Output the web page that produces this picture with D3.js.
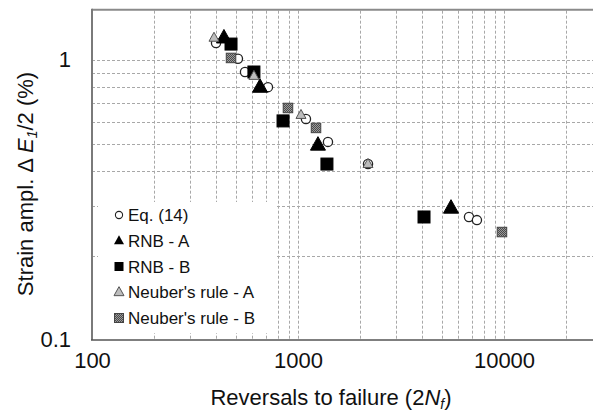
<!DOCTYPE html>
<html>
<head>
<meta charset="utf-8">
<script src="https://cdn.jsdelivr.net/npm/d3@7"></script>
<style>
  body { margin: 0; background: #fff; }
  text { font-family: "Liberation Sans", Arial, Helvetica, sans-serif; fill: #111; }
</style>
</head>
<body>
<div id="chart"></div>
<script>
// Data: [reversals 2Nf, strain amplitude %]
var eq14 = [[400, 1.15], [511, 1.01], [553, 0.906], [715, 0.80], [1093, 0.616],
  [1398, 0.51], [2187, 0.425], [6761, 0.275], [7390, 0.268]];
var rnbA = [[437, 1.20], [654, 0.80], [1250, 0.497], [5530, 0.296]];
var rnbB = [[473, 1.14], [611, 0.906], [846, 0.606], [1382, 0.425], [4090, 0.275]];
var neuberA = [[391, 1.20], [611, 0.877], [1034, 0.636], [2187, 0.425]];
var neuberB = [[473, 1.017], [894, 0.674], [1223, 0.572], [9775, 0.243]];

var seriesNames = ["Eq. (14)", "RNB - A", "RNB - B", "Neuber's rule - A", "Neuber's rule - B"];
var xTickValues = [100, 1000, 10000];
var yTickValues = [0.1, 1];
var xGridValues = [200, 300, 400, 500, 600, 700, 800, 900, 1000,
  2000, 3000, 4000, 5000, 6000, 7000, 8000, 9000, 10000, 20000];
var yGridValues = [0.2, 0.3, 0.4, 0.5, 0.6, 0.7, 0.8, 0.9, 1];

var svgWidth = 593;
var svgHeight = 417;

var svg = d3.select("#chart")
  .append("svg")
  .attr("width", svgWidth)
  .attr("height", svgHeight);

// pattern for the checkered grey squares
var defs = svg.append("defs");
var checker = defs.append("pattern")
  .attr("id", "checker")
  .attr("width", 2)
  .attr("height", 2)
  .attr("patternUnits", "userSpaceOnUse");
checker.append("rect").attr("width", 2).attr("height", 2).attr("fill", "#9a9a9a");
checker.append("rect").attr("width", 1).attr("height", 1).attr("fill", "#4a4a4a");
checker.append("rect").attr("x", 1).attr("y", 1).attr("width", 1).attr("height", 1).attr("fill", "#4a4a4a");

// scales (plot runs past the right edge of the picture)
var xScale = d3.scaleLog().domain([100, 30000]).range([92, 92 + 206 * Math.log10(300)]);
var yScale = d3.scaleLog().domain([0.1, 1.5]).range([340, 340 - 280 * Math.log10(15)]);

var x0 = xScale.range()[0];
var y0 = yScale.range()[0];
var yTop = yScale.range()[1];

// grid
var grid = svg.append("g")
  .attr("stroke", "#a8a8a8")
  .attr("stroke-width", 1)
  .attr("stroke-dasharray", "3,2");

grid.selectAll(".vgrid")
  .data(xGridValues)
  .enter()
  .append("line")
  .attr("x1", d => Math.round(xScale(d)) + 0.5)
  .attr("x2", d => Math.round(xScale(d)) + 0.5)
  .attr("y1", yTop)
  .attr("y2", y0);

grid.selectAll(".hgrid")
  .data(yGridValues)
  .enter()
  .append("line")
  .attr("x1", x0)
  .attr("x2", svgWidth)
  .attr("y1", d => Math.round(yScale(d)) + 0.5)
  .attr("y2", d => Math.round(yScale(d)) + 0.5);

// frame: top and left grey, bottom darker
svg.append("line")
  .attr("x1", x0).attr("x2", svgWidth)
  .attr("y1", yTop - 1).attr("y2", yTop - 1)
  .attr("stroke", "#8a8a8a").attr("stroke-width", 2);
svg.append("line")
  .attr("x1", x0).attr("x2", x0)
  .attr("y1", yTop - 2).attr("y2", y0)
  .attr("stroke", "#7a7a7a").attr("stroke-width", 2);
svg.append("line")
  .attr("x1", x0 - 1).attr("x2", svgWidth)
  .attr("y1", y0).attr("y2", y0)
  .attr("stroke", "#555").attr("stroke-width", 1.6);

// axes through d3 axis generators, domain path and ticks removed
var bottomAxis = d3.axisBottom(xScale).tickValues(xTickValues).tickSize(0).tickPadding(12)
  .tickFormat(d3.format("d"));
var xAxis = svg.append("g")
  .attr("transform", `translate(0, ${y0})`)
  .call(bottomAxis);
xAxis.select(".domain").remove();
xAxis.selectAll("text")
  .attr("font-size", 22)
  .attr("font-family", "Liberation Sans, Arial, sans-serif")
  .attr("fill", "#111")
  .attr("dy", "0.71em");

var leftAxis = d3.axisLeft(yScale).tickValues(yTickValues).tickSize(0).tickPadding(21)
  .tickFormat(d => d === 1 ? "1" : "0.1");
var yAxis = svg.append("g")
  .attr("transform", `translate(${x0}, 0)`)
  .call(leftAxis);
yAxis.select(".domain").remove();
yAxis.selectAll("text")
  .attr("font-size", 22)
  .attr("font-family", "Liberation Sans, Arial, sans-serif")
  .attr("fill", "#111")
  .attr("dy", "0.3em");

// marker drawing helpers
function triPath(s) {
  var h = s * 0.9;
  return `M0,${-h * 0.62}L${s / 2},${h * 0.38}L${-s / 2},${h * 0.38}Z`;
}

function drawCircles(g, data, r) {
  g.selectAll("circle.eq")
    .data(data)
    .enter()
    .append("circle")
    .attr("cx", d => xScale(d[0]))
    .attr("cy", d => yScale(d[1]))
    .attr("r", r)
    .attr("fill", "#fff")
    .attr("stroke", "#222")
    .attr("stroke-width", 1.3);
}

function drawTriangles(g, data, s, fill, stroke) {
  g.selectAll("path.t")
    .data(data)
    .enter()
    .append("path")
    .attr("transform", d => `translate(${xScale(d[0])}, ${yScale(d[1])})`)
    .attr("d", triPath(s))
    .attr("fill", fill)
    .attr("stroke", stroke)
    .attr("stroke-width", 1);
}

function drawSquares(g, data, s, fill, stroke) {
  g.selectAll("rect.s")
    .data(data)
    .enter()
    .append("rect")
    .attr("x", d => xScale(d[0]) - s / 2)
    .attr("y", d => yScale(d[1]) - s / 2)
    .attr("width", s)
    .attr("height", s)
    .attr("fill", fill)
    .attr("stroke", stroke)
    .attr("stroke-width", 1);
}

// points, drawn in the same order as the original
drawCircles(svg.append("g"), eq14, 4.6);
drawTriangles(svg.append("g"), rnbA, 15, "#000", "#000");
drawSquares(svg.append("g"), rnbB, 12, "#000", "#000");
drawTriangles(svg.append("g"), neuberA, 10, "#bdbdbd", "#555");
drawSquares(svg.append("g"), neuberB, 9.5, "url(#checker)", "#444");

// legend on a white box that hides the grid
var legend = svg.append("g");
legend.append("rect")
  .attr("x", 98)
  .attr("y", 202)
  .attr("width", 177)
  .attr("height", 131)
  .attr("fill", "#fff");

var rowY = d3.scalePoint().domain(seriesNames).range([215, 318]);
var symX = 119;

var rows = legend.selectAll("g.row")
  .data(seriesNames)
  .enter()
  .append("g")
  .attr("transform", d => `translate(${symX}, ${rowY(d)})`);

rows.append("text")
  .attr("x", 9)
  .attr("y", 6)
  .attr("font-size", 17)
  .text(d => d);

rows.filter((d, i) => i === 0).append("circle")
  .attr("r", 3.6).attr("fill", "#fff").attr("stroke", "#222").attr("stroke-width", 1.1);
rows.filter((d, i) => i === 1).append("path")
  .attr("d", triPath(10)).attr("fill", "#000");
rows.filter((d, i) => i === 2).append("rect")
  .attr("x", -4.5).attr("y", -4.5).attr("width", 9).attr("height", 9).attr("fill", "#000");
rows.filter((d, i) => i === 3).append("path")
  .attr("d", triPath(10)).attr("fill", "#bdbdbd").attr("stroke", "#555").attr("stroke-width", 1);
rows.filter((d, i) => i === 4).append("rect")
  .attr("x", -4.5).attr("y", -4.5).attr("width", 9).attr("height", 9)
  .attr("fill", "url(#checker)").attr("stroke", "#444").attr("stroke-width", 1);

// axis titles
var xTitle = svg.append("text")
  .attr("x", 331)
  .attr("y", 405)
  .attr("text-anchor", "middle")
  .attr("font-size", 22);
xTitle.append("tspan").text("Reversals to failure (2");
xTitle.append("tspan").attr("font-style", "italic").text("N");
xTitle.append("tspan").attr("font-style", "italic").attr("font-size", 14).attr("dy", 4).text("f");
xTitle.append("tspan").attr("dy", -4).text(")");

var yTitle = svg.append("text")
  .attr("transform", "translate(33, 184) rotate(-90)")
  .attr("text-anchor", "middle")
  .attr("font-size", 22);
yTitle.append("tspan").text("Strain ampl. \u0394 ");
yTitle.append("tspan").attr("font-style", "italic").text("E");
yTitle.append("tspan").attr("font-style", "italic").attr("font-size", 14).attr("dy", 4).text("1");
yTitle.append("tspan").attr("dy", -4).text("/2 (%)");
</script>
</body>
</html>
